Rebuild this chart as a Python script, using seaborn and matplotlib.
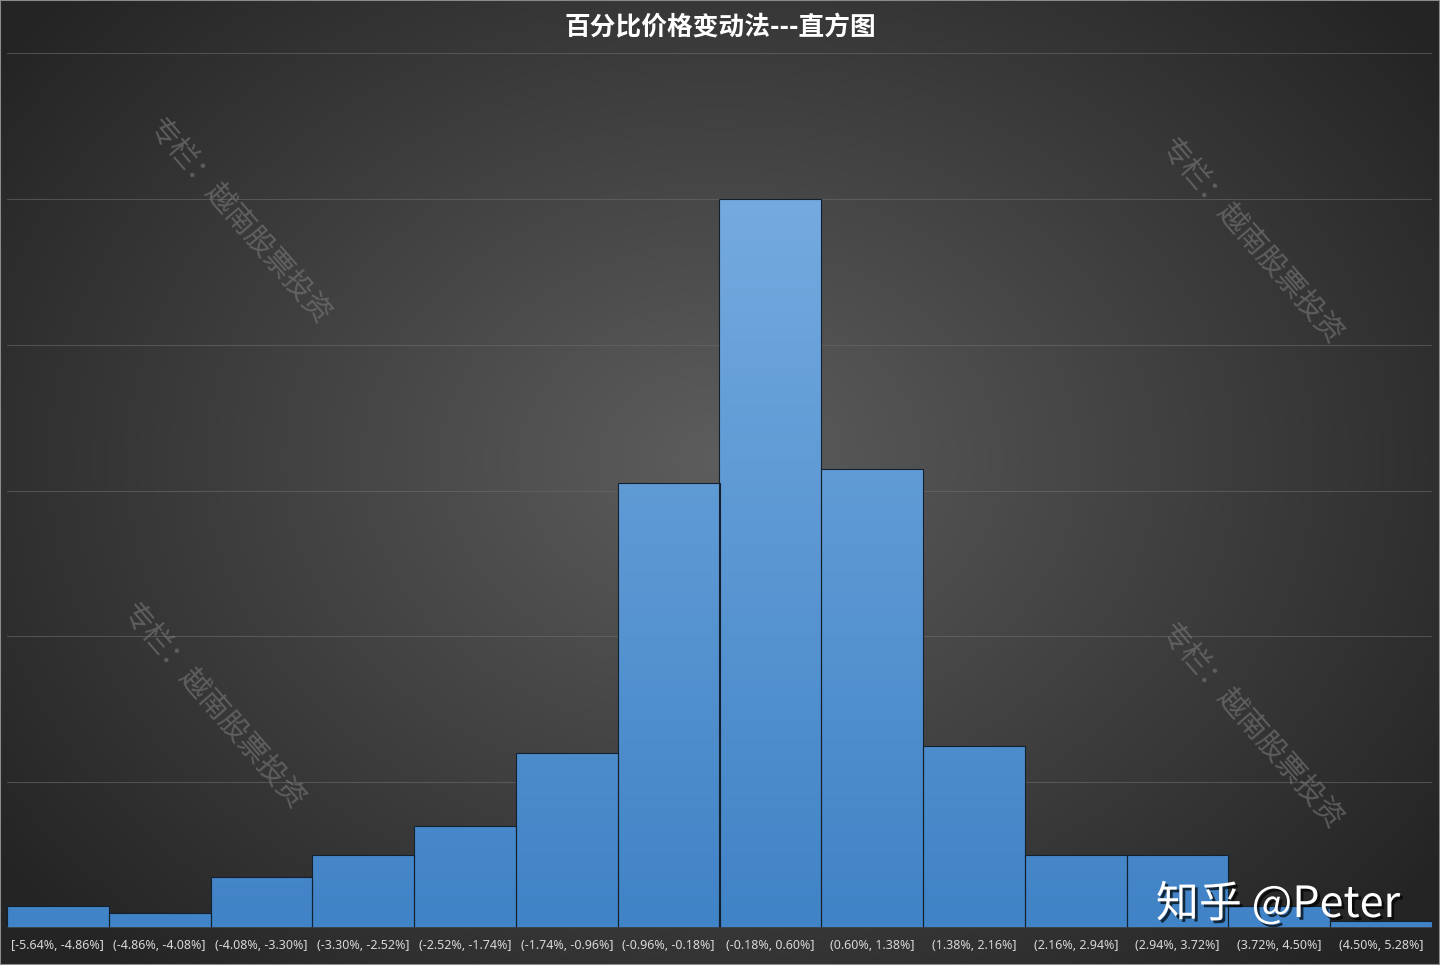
import numpy as np
import pandas as pd
import matplotlib
matplotlib.use("Agg")
import matplotlib.pyplot as plt
import matplotlib.patheffects as pe
from matplotlib.colors import LinearSegmentedColormap
import seaborn as sns

# bins and counts
bins = ["[-5.64%, -4.86%]", "(-4.86%, -4.08%]", "(-4.08%, -3.30%]", "(-3.30%, -2.52%]",
        "(-2.52%, -1.74%]", "(-1.74%, -0.96%]", "(-0.96%, -0.18%]", "(-0.18%, 0.60%]",
        "(0.60%, 1.38%]", "(1.38%, 2.16%]", "(2.16%, 2.94%]", "(2.94%, 3.72%]",
        "(3.72%, 4.50%]", "(4.50%, 5.28%]"]
counts = [3, 2, 7, 10, 14, 24, 61, 100, 63, 25, 10, 10, 3, 1]

title = "百分比价格变动法---直方图"
watermark = "专栏：越南股票投资"

df = pd.DataFrame({"bin": bins, "count": counts})

sns.set_theme(style="dark")
plt.rcParams['font.family'] = ['Noto Sans CJK SC', 'DejaVu Sans']

fig = plt.figure(figsize=(14.4, 9.65), dpi=100)

# radial background
bg = fig.add_axes([0, 0, 1, 1], zorder=-1)
yy, xx = np.mgrid[0:965, 0:1440]
r = np.sqrt(((xx - 720) / 880.0) ** 2 + ((yy - 460) / 680.0) ** 2)
r = np.clip(r, 0, 1)
shade = 0.365 - (0.365 - 0.145) * r
bg.imshow(np.dstack([shade, shade, shade]), extent=[0, 1, 0, 1], aspect='auto', origin='upper')
bg.set_axis_off()

ax = fig.add_axes([7 / 1440, 1 - 928 / 965, 1425 / 1440, 875 / 965])
ax.set_facecolor('none')

sns.barplot(data=df, x="bin", y="count", width=1.0, color="#4a8ccd",
            edgecolor="#14202e", linewidth=0.8, ax=ax, zorder=3)

# gradient fill inside each bar
cmap = LinearSegmentedColormap.from_list("bluegrad", ["#4083c6", "#74aadf"])
grad = np.linspace(0, 1, 256).reshape(-1, 1)
for p in ax.patches:
    im = ax.imshow(grad, cmap=cmap, origin='lower', aspect='auto',
                   extent=[-0.5, 13.5, 0, 100], zorder=2)
    im.set_clip_path(p)
    p.set_facecolor('none')

ax.set_xlim(-0.5, 13.5)
ax.set_ylim(0, 120)
ax.set_yticks([20, 40, 60, 80, 100, 120])
ax.set_yticklabels([])
ax.grid(axis='y', color='#6a6a6a', linewidth=0.8, alpha=0.6, zorder=0)
ax.grid(axis='x', visible=False)
for s in ax.spines.values():
    s.set_visible(False)
ax.axhline(0, color='#3a3a3a', linewidth=1.2, zorder=4)
ax.tick_params(axis='x', length=0, pad=8, labelsize=9, labelcolor='#d8d8d8')
ax.tick_params(axis='y', length=0)
for t in ax.get_xticklabels():
    t.set_fontfamily(['Noto Sans', 'DejaVu Sans'])
ax.set_xlabel("")
ax.set_ylabel("")

fig.text(0.5, 1 - 28 / 965, title, ha='center', va='center', color='white',
         fontsize=18.5, fontweight='bold')

# watermarks
for (x, y) in [(238, 222), (212, 707), (1250, 242), (1250, 727)]:
    fig.text(x / 1440, 1 - y / 965, watermark, ha='center', va='center',
             rotation=-49, rotation_mode='anchor', color='#7a7a7a', alpha=0.6,
             fontsize=21)

fig.text(1278 / 1440, 1 - 905 / 965, "知乎 @Peter", ha='center', va='center',
         color='white', fontsize=31,
         path_effects=[pe.withSimplePatchShadow(offset=(2, -2), shadow_rgbFace='black', alpha=0.7)])

# thin frame around the image
fig.patches.append(plt.Rectangle((0, 0), 1, 1, transform=fig.transFigure, fill=False,
                                 edgecolor='#8a8a8a', linewidth=1.5, zorder=10))

fig.savefig("out.png", dpi=100)
